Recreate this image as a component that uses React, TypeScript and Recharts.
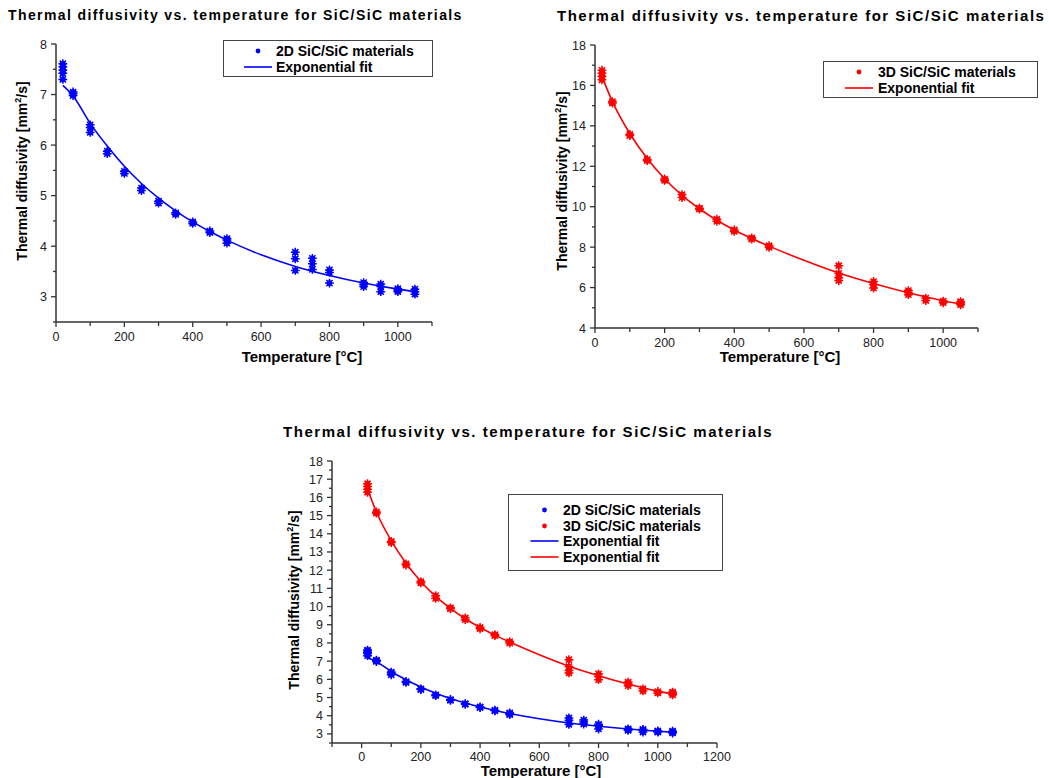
import React from 'react';
import { ComposedChart, Scatter, Line, XAxis, YAxis } from 'recharts';

const FONT = '"Liberation Sans", Arial, Helvetica, sans-serif';
const BLUE = '#0000ff';
const RED = '#ff0000';
const AXIS = '#333333';

const TITLE = 'Thermal diffusivity vs. temperature for SiC/SiC materials';
const X_LABEL = 'Temperature [\u00B0C]';
const LEGEND_2D = '2D SiC/SiC materials';
const LEGEND_3D = '3D SiC/SiC materials';
const LEGEND_FIT = 'Exponential fit';

// measured temperatures (°C) and replicate measurements (mm²/s)
const temps2D = [20, 50, 100, 150, 200, 250, 300, 350, 400, 450, 500, 700, 750, 800, 900, 950, 1000, 1050];
const meas2D = [
  [7.3, 7.42, 7.48, 7.55, 7.61],
  [6.98, 7.02, 7.05],
  [6.25, 6.35, 6.4],
  [5.83, 5.88],
  [5.44, 5.48],
  [5.1, 5.15],
  [4.85, 4.89],
  [4.63, 4.66],
  [4.45, 4.48],
  [4.27, 4.3],
  [4.06, 4.12, 4.15],
  [3.52, 3.75, 3.88],
  [3.54, 3.65, 3.76],
  [3.27, 3.48, 3.53],
  [3.2, 3.24, 3.28],
  [3.1, 3.2, 3.25],
  [3.1, 3.13, 3.16],
  [3.05, 3.1, 3.15],
];

const temps3D = [20, 50, 100, 150, 200, 250, 300, 350, 400, 450, 500, 700, 800, 900, 950, 1000, 1050];
const meas3D = [
  [16.28, 16.45, 16.6, 16.75],
  [15.13, 15.2],
  [13.52, 13.58],
  [12.28, 12.34],
  [11.3, 11.37],
  [10.45, 10.6],
  [9.88, 9.93],
  [9.28, 9.38],
  [8.78, 8.85],
  [8.4, 8.46],
  [7.99, 8.07],
  [6.35, 6.48, 6.7, 7.08],
  [5.98, 6.15, 6.3],
  [5.65, 5.76, 5.85],
  [5.36, 5.48],
  [5.25, 5.33],
  [5.15, 5.24, 5.3],
];

// exponential fit curves
const fitTemps = [20, 50, 100, 150, 200, 250, 300, 350, 400, 450, 500, 600, 700, 800, 900, 1000, 1050];
const fit2D = [7.18, 6.97, 6.43, 5.98, 5.58, 5.24, 4.95, 4.7, 4.48, 4.29, 4.12, 3.83, 3.6, 3.42, 3.27, 3.15, 3.1];
const fit3D = [16.45, 15.2, 13.62, 12.38, 11.38, 10.56, 9.9, 9.33, 8.85, 8.43, 8.05, 7.35, 6.72, 6.2, 5.74, 5.35, 5.19];

// axis ticks
const xTicksTop = [0, 100, 200, 300, 400, 500, 600, 700, 800, 900, 1000, 1100];
const xTicksBottom = [-100, 0, 100, 200, 300, 400, 500, 600, 700, 800, 900, 1000, 1100, 1200];
const yTicks2D = [2.5, 3, 3.5, 4, 4.5, 5, 5.5, 6, 6.5, 7, 7.5, 8];
const yTicks3D = [4, 5, 6, 7, 8, 9, 10, 11, 12, 13, 14, 15, 16, 17, 18];
const yTicksBoth = [2.5, 3, 3.5, 4, 4.5, 5, 5.5, 6, 6.5, 7, 7.5, 8, 8.5, 9, 9.5, 10, 10.5, 11, 11.5, 12, 12.5, 13, 13.5, 14, 14.5, 15, 15.5, 16, 16.5, 17, 17.5, 18];

const toPoints = (temps: number[], meas: number[][]) =>
  temps.flatMap((t, i) => meas[i].map((v) => ({ x: t, y: v })));
const toCurve = (temps: number[], vals: number[]) => temps.map((t, i) => ({ x: t, y: vals[i] }));

const pts2D = toPoints(temps2D, meas2D);
const pts3D = toPoints(temps3D, meas3D);
const curve2D = toCurve(fitTemps, fit2D);
const curve3D = toCurve(fitTemps, fit3D);

const Marker = (color: string) => (props: any) => {
  const { cx, cy } = props;
  if (cx == null || cy == null) return <g />;
  const a = 4.4;
  const d = 3.1;
  return (
    <g>
      <circle cx={cx} cy={cy} r={2.8} fill={color} />
      <path
        d={`M${cx - a},${cy}H${cx + a}M${cx},${cy - a}V${cy + a}M${cx - d},${cy - d}L${cx + d},${cy + d}M${cx - d},${cy + d}L${cx + d},${cy - d}`}
        stroke={color}
        strokeWidth={1.5}
        fill="none"
      />
    </g>
  );
};

const isMult = (v: number, step: number) => Math.abs(v / step - Math.round(v / step)) < 1e-6;

const makeXTick = (major: number, hide: (v: number) => boolean, labelGap: number) => (p: any) => {
  const v = p.payload.value;
  const isMajor = isMult(v, major);
  const len = isMajor ? 5 : 4;
  return (
    <g>
      <line x1={p.x} x2={p.x} y1={p.y} y2={p.y + len} stroke={AXIS} strokeWidth={1.3} />
      {isMajor && !hide(v) && (
        <text x={p.x} y={p.y + labelGap} dy="0.36em" textAnchor="middle" fontSize={12.5} fill="#222" fontFamily={FONT}>
          {v}
        </text>
      )}
    </g>
  );
};

const makeYTick = (major: number) => (p: any) => {
  const v = p.payload.value;
  const isMajor = isMult(v, major);
  const len = isMajor ? 5 : 3;
  return (
    <g>
      <line x1={p.x - len} x2={p.x} y1={p.y} y2={p.y} stroke={AXIS} strokeWidth={1.3} />
      {isMajor && (
        <text x={p.x - 9} y={p.y} dy="0.36em" textAnchor="end" fontSize={12.5} fill="#222" fontFamily={FONT}>
          {v}
        </text>
      )}
    </g>
  );
};

type Series = { pts: { x: number; y: number }[]; curve: { x: number; y: number }[]; color: string; name: string };

function Plot(props: {
  width: number;
  height: number;
  margin: { top: number; right: number; bottom: number; left: number };
  xDomain: [number, number];
  xTicks: number[];
  yDomain: [number, number];
  yTicks: number[];
  yMajor: number;
  labelGap: number;
  series: Series[];
}) {
  const { width, height, margin, xDomain, xTicks, yDomain, yTicks, yMajor, labelGap, series } = props;
  return (
    <ComposedChart width={width} height={height} margin={margin}>
      <XAxis
        type="number"
        dataKey="x"
        domain={xDomain}
        ticks={xTicks}
        interval={0}
        tickSize={0}
        tickMargin={0}
        tickLine={false}
        axisLine={{ stroke: AXIS, strokeWidth: 1.5 }}
        tick={makeXTick(200, (v) => v < 0, labelGap)}
        height={30}
        allowDataOverflow
      />
      <YAxis
        type="number"
        domain={yDomain}
        ticks={yTicks}
        interval={0}
        tickSize={0}
        tickMargin={0}
        tickLine={false}
        axisLine={{ stroke: AXIS, strokeWidth: 1.5 }}
        tick={makeYTick(yMajor)}
        width={40}
        allowDataOverflow
      />
      {series.map((s) => (
        <Line
          key={'l' + s.name}
          data={s.curve}
          dataKey="y"
          type="monotone"
          stroke={s.color}
          strokeWidth={1.6}
          dot={false}
          activeDot={false}
          isAnimationActive={false}
        />
      ))}
      {series.map((s) => (
        <Scatter key={'s' + s.name} data={s.pts} dataKey="y" shape={Marker(s.color)} isAnimationActive={false} />
      ))}
    </ComposedChart>
  );
}

type LegendItem = { kind: 'dot' | 'line'; color: string; label: string };

function LegendBox(props: { left: number; top: number; width: number; height: number; rows: number[]; items: LegendItem[]; symX: number; textX: number }) {
  const { left, top, width, height, rows, items, symX, textX } = props;
  return (
    <div
      style={{
        position: 'absolute',
        left,
        top,
        width,
        height,
        border: '1.5px solid #444',
        boxSizing: 'border-box',
        background: '#fff',
      }}
    >
      {items.map((it, i) => (
        <div key={i} style={{ position: 'absolute', left: 0, top: rows[i] - 8, height: 16, width: width - 4 }}>
          <svg width={textX} height={16} style={{ position: 'absolute', left: 0, top: 0 }}>
            {it.kind === 'dot' ? (
              <circle cx={symX} cy={8} r={2.4} fill={it.color} />
            ) : (
              <line x1={symX - 14} x2={symX + 14} y1={8} y2={8} stroke={it.color} strokeWidth={1.6} />
            )}
          </svg>
          <span
            style={{
              position: 'absolute',
              left: textX,
              top: 0,
              lineHeight: '16px',
              fontSize: 14,
              fontWeight: 'bold',
              whiteSpace: 'nowrap',
              color: '#000',
              fontFamily: FONT,
            }}
          >
            {it.label}
          </span>
        </div>
      ))}
    </div>
  );
}

function Title(props: { left: number; cy: number; size: number; spacing: number }) {
  return (
    <div
      style={{
        position: 'absolute',
        left: props.left,
        top: props.cy - 9,
        height: 18,
        lineHeight: '18px',
        fontSize: props.size,
        fontWeight: 'bold',
        letterSpacing: props.spacing,
        whiteSpace: 'nowrap',
        color: '#000',
      }}
    >
      {TITLE}
    </div>
  );
}

function XLabel(props: { cx: number; cy: number }) {
  return (
    <div
      style={{
        position: 'absolute',
        left: props.cx - 100,
        top: props.cy - 8,
        width: 200,
        height: 16,
        lineHeight: '16px',
        textAlign: 'center',
        fontSize: 15,
        fontWeight: 'bold',
        color: '#000',
        whiteSpace: 'nowrap',
      }}
    >
      {X_LABEL}
    </div>
  );
}

function YLabel(props: { cx: number; cy: number }) {
  return (
    <div
      style={{
        position: 'absolute',
        left: props.cx - 110,
        top: props.cy - 9,
        width: 220,
        height: 18,
        lineHeight: '18px',
        textAlign: 'center',
        fontSize: 14,
        fontWeight: 'bold',
        color: '#000',
        whiteSpace: 'nowrap',
        transform: 'rotate(-90deg)',
      }}
    >
      Thermal diffusivity [mm<sup style={{ fontSize: 9, lineHeight: 0 }}>2</sup>/s]
    </div>
  );
}

export default function App() {
  const s2D: Series = { pts: pts2D, curve: curve2D, color: BLUE, name: '2D' };
  const s3D: Series = { pts: pts3D, curve: curve3D, color: RED, name: '3D' };
  return (
    <div
      style={{
        position: 'absolute',
        left: 0,
        top: 0,
        width: 1049,
        height: 778,
        background: '#fff',
        overflow: 'hidden',
        fontFamily: FONT,
      }}
    >
      <Title left={8} cy={15} size={14} spacing={1.4} />
      <Title left={557} cy={16} size={15} spacing={1.52} />
      <Title left={283} cy={432} size={15} spacing={1.55} />

      <div style={{ position: 'absolute', left: 0, top: 0 }}>
        <Plot
          width={460}
          height={380}
          margin={{ top: 44, right: 28, bottom: 28, left: 16 }}
          xDomain={[0, 1100]}
          xTicks={xTicksTop}
          yDomain={[2.5, 8]}
          yTicks={yTicks2D}
          yMajor={1}
          labelGap={14}
          series={[s2D]}
        />
      </div>
      <div style={{ position: 'absolute', left: 540, top: 0 }}>
        <Plot
          width={460}
          height={380}
          margin={{ top: 45, right: 22, bottom: 22, left: 15 }}
          xDomain={[0, 1100]}
          xTicks={xTicksTop}
          yDomain={[4, 18]}
          yTicks={yTicks3D}
          yMajor={2}
          labelGap={14}
          series={[s3D]}
        />
      </div>
      <div style={{ position: 'absolute', left: 280, top: 420 }}>
        <Plot
          width={460}
          height={358}
          margin={{ top: 41, right: 23, bottom: 5, left: 12 }}
          xDomain={[-100, 1200]}
          xTicks={xTicksBottom}
          yDomain={[2.5, 18]}
          yTicks={yTicksBoth}
          yMajor={1}
          labelGap={13}
          series={[s2D, s3D]}
        />
      </div>

      <XLabel cx={302} cy={357} />
      <XLabel cx={780} cy={357} />
      <XLabel cx={541} cy={771} />
      <YLabel cx={22} cy={171} />
      <YLabel cx={562} cy={181} />
      <YLabel cx={294} cy={600} />

      <LegendBox
        left={223}
        top={40}
        width={210}
        height={37}
        rows={[10, 26]}
        symX={34}
        textX={52}
        items={[
          { kind: 'dot', color: BLUE, label: LEGEND_2D },
          { kind: 'line', color: BLUE, label: LEGEND_FIT },
        ]}
      />
      <LegendBox
        left={823}
        top={61}
        width={215}
        height={37}
        rows={[10, 26]}
        symX={35}
        textX={54}
        items={[
          { kind: 'dot', color: RED, label: LEGEND_3D },
          { kind: 'line', color: RED, label: LEGEND_FIT },
        ]}
      />
      <LegendBox
        left={508}
        top={494}
        width={215}
        height={77}
        rows={[14.5, 30.5, 46, 62]}
        symX={35.5}
        textX={54}
        items={[
          { kind: 'dot', color: BLUE, label: LEGEND_2D },
          { kind: 'dot', color: RED, label: LEGEND_3D },
          { kind: 'line', color: BLUE, label: LEGEND_FIT },
          { kind: 'line', color: RED, label: LEGEND_FIT },
        ]}
      />
    </div>
  );
}
